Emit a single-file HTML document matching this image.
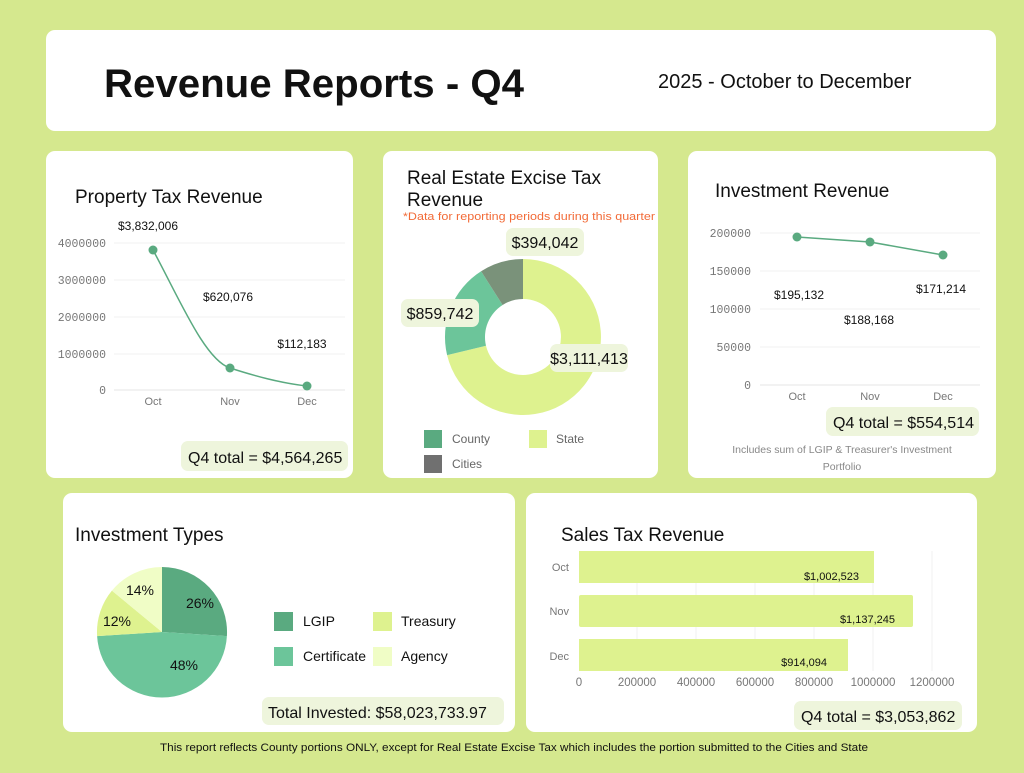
<!DOCTYPE html>
<html><head><meta charset="utf-8"><style>
body{margin:0;width:1024px;height:768px;background:#d5e88e;font-family:"Liberation Sans",sans-serif;overflow:hidden}
</style></head><body>
<svg width="1024" height="768" xmlns="http://www.w3.org/2000/svg" font-family="Liberation Sans, sans-serif">
<rect width="1024" height="768" fill="#d5e88e"/>
<rect x="46" y="30" width="950" height="101" rx="9" fill="#fff"/>
<text x="104" y="97" font-size="40" font-weight="bold" fill="#111" textLength="420" lengthAdjust="spacingAndGlyphs">Revenue Reports - Q4</text>
<text x="658" y="88" font-size="20" fill="#111">2025 - October to December</text>

<!-- P1 -->
<rect x="46" y="151" width="307" height="327" rx="9" fill="#fff"/>
<text x="75" y="203" font-size="19" fill="#111">Property Tax Revenue</text>
<g stroke="#f0f0f0" stroke-width="1">
<line x1="114" y1="243" x2="345" y2="243"/><line x1="114" y1="280" x2="345" y2="280"/><line x1="114" y1="317" x2="345" y2="317"/><line x1="114" y1="354" x2="345" y2="354"/></g>
<line x1="114" y1="390" x2="345" y2="390" stroke="#e6e6e6"/>
<g font-size="11.5" fill="#777" font-family="Liberation Mono, monospace" text-anchor="end">
<text x="106" y="247">4000000</text><text x="106" y="284">3000000</text><text x="106" y="321">2000000</text><text x="106" y="358">1000000</text><text x="106" y="394">0</text></g>
<g font-size="11" fill="#777" text-anchor="middle"><text x="153" y="405">Oct</text><text x="230" y="405">Nov</text><text x="307" y="405">Dec</text></g>
<path d="M153,250 C180,300 205,360 230,368 C255,376 280,383 307,386" fill="none" stroke="#5aaa80" stroke-width="1.5"/>
<g fill="#5aaa80"><circle cx="153" cy="250" r="4.5"/><circle cx="230" cy="368" r="4.5"/><circle cx="307" cy="386" r="4.5"/></g>
<g font-size="12" fill="#111" text-anchor="middle"><text x="148" y="230">$3,832,006</text><text x="228" y="301">$620,076</text><text x="302" y="348">$112,183</text></g>
<rect x="181" y="441" width="167" height="30" rx="7" fill="#eef5dc"/>
<text x="188" y="463" font-size="16" fill="#111">Q4 total = $4,564,265</text>

<!-- P2 -->
<rect x="383" y="151" width="275" height="327" rx="9" fill="#fff"/>
<text x="407" y="184" font-size="19" fill="#111">Real Estate Excise Tax</text>
<text x="407" y="206" font-size="19" fill="#111">Revenue</text>
<text x="403" y="220" font-size="11" fill="#f26b38" textLength="252" lengthAdjust="spacingAndGlyphs">*Data for reporting periods during this quarter</text>
<path d="M523,259 A78,78 0 1,1 447.1,355.1 L486,345.8 A38,38 0 1,0 523,299 Z" fill="#def28f"/>
<path d="M447.1,355.1 A78,78 0 0,1 481.1,271.2 L502.6,305 A38,38 0 0,0 486,345.8 Z" fill="#6cc59a"/>
<path d="M481.1,271.2 A78,78 0 0,1 523,259 L523,299 A38,38 0 0,0 502.6,305 Z" fill="#7a927a"/>
<rect x="506" y="228" width="78" height="28" rx="7" fill="#eef5dc"/><text x="545" y="248" font-size="16" text-anchor="middle" fill="#111">$394,042</text>
<rect x="401" y="299" width="78" height="28" rx="7" fill="#eef5dc"/><text x="440" y="319" font-size="16" text-anchor="middle" fill="#111">$859,742</text>
<rect x="550" y="344" width="78" height="28" rx="7" fill="#eef5dc"/><text x="589" y="364" font-size="16" text-anchor="middle" fill="#111">$3,111,413</text>
<rect x="424" y="430" width="18" height="18" fill="#5aaa80"/><text x="452" y="443" font-size="12" fill="#666">County</text>
<rect x="529" y="430" width="18" height="18" fill="#def28f"/><text x="556" y="443" font-size="12" fill="#666">State</text>
<rect x="424" y="455" width="18" height="18" fill="#707070"/><text x="452" y="468" font-size="12" fill="#666">Cities</text>

<!-- P3 -->
<rect x="688" y="151" width="308" height="327" rx="9" fill="#fff"/>
<text x="715" y="197" font-size="19" fill="#111">Investment Revenue</text>
<g stroke="#f0f0f0"><line x1="760" y1="233" x2="980" y2="233"/><line x1="760" y1="271" x2="980" y2="271"/><line x1="760" y1="309" x2="980" y2="309"/><line x1="760" y1="347" x2="980" y2="347"/></g>
<line x1="760" y1="385" x2="980" y2="385" stroke="#e6e6e6"/>
<g font-size="11.5" fill="#777" font-family="Liberation Mono, monospace" text-anchor="end">
<text x="751" y="237">200000</text><text x="751" y="275">150000</text><text x="751" y="313">100000</text><text x="751" y="351">50000</text><text x="751" y="389">0</text></g>
<g font-size="11" fill="#777" text-anchor="middle"><text x="797" y="400">Oct</text><text x="870" y="400">Nov</text><text x="943" y="400">Dec</text></g>
<polyline points="797,237 870,242 943,255" fill="none" stroke="#5aaa80" stroke-width="1.5"/>
<g fill="#5aaa80"><circle cx="797" cy="237" r="4.5"/><circle cx="870" cy="242" r="4.5"/><circle cx="943" cy="255" r="4.5"/></g>
<g font-size="12" fill="#111" text-anchor="middle"><text x="799" y="299">$195,132</text><text x="869" y="324">$188,168</text><text x="941" y="293">$171,214</text></g>
<rect x="826" y="407" width="153" height="29" rx="7" fill="#eef5dc"/>
<text x="833" y="428" font-size="16" fill="#111">Q4 total = $554,514</text>
<text x="842" y="453" font-size="10.5" fill="#888" text-anchor="middle">Includes sum of LGIP &amp; Treasurer's Investment</text>
<text x="842" y="470" font-size="10.5" fill="#888" text-anchor="middle">Portfolio</text>

<!-- P4 -->
<rect x="63" y="493" width="452" height="239" rx="9" fill="#fff"/>
<text x="75" y="541" font-size="19" fill="#111">Investment Types</text>
<path d="M162,632 L162,567 A65,65 0 0,1 226.9,636.1 Z" fill="#5aaa80"/>
<path d="M162,632 L226.9,636.1 A65,65 0 0,1 97.1,636.1 Z" fill="#6cc59a"/>
<path d="M162,632 L97.1,636.1 A65,65 0 0,1 111.9,590.6 Z" fill="#def28f"/>
<path d="M162,632 L111.9,590.6 A65,65 0 0,1 162,567 Z" fill="#f0fdc6"/>
<g font-size="14" fill="#111" text-anchor="middle"><text x="200" y="608">26%</text><text x="184" y="670">48%</text><text x="117" y="626">12%</text><text x="140" y="595">14%</text></g>
<rect x="274" y="612" width="19" height="19" fill="#5aaa80"/><text x="303" y="626" font-size="14" fill="#111">LGIP</text>
<rect x="373" y="612" width="19" height="19" fill="#def28f"/><text x="401" y="626" font-size="14" fill="#111">Treasury</text>
<rect x="274" y="647" width="19" height="19" fill="#6cc59a"/><text x="303" y="661" font-size="14" fill="#111">Certificate</text>
<rect x="373" y="647" width="19" height="19" fill="#f0fdc6"/><text x="401" y="661" font-size="14" fill="#111">Agency</text>
<rect x="262" y="697" width="242" height="28" rx="7" fill="#eef5dc"/>
<text x="268" y="718" font-size="16" fill="#111">Total Invested: $58,023,733.97</text>

<!-- P5 -->
<rect x="526" y="493" width="451" height="239" rx="9" fill="#fff"/>
<text x="561" y="541" font-size="19" fill="#111">Sales Tax Revenue</text>
<g stroke="#f0f0f0"><line x1="637" y1="551" x2="637" y2="671"/><line x1="696" y1="551" x2="696" y2="671"/><line x1="755" y1="551" x2="755" y2="671"/><line x1="814" y1="551" x2="814" y2="671"/><line x1="873" y1="551" x2="873" y2="671"/><line x1="932" y1="551" x2="932" y2="671"/></g>
<rect x="579" y="551" width="295" height="32" fill="#def28f"/>
<rect x="579" y="595" width="334" height="32" fill="#def28f" rx="2"/>
<rect x="579" y="639" width="269" height="32" fill="#def28f"/>
<g font-size="11" fill="#111" text-anchor="end"><text x="859" y="580">$1,002,523</text><text x="895" y="623">$1,137,245</text><text x="827" y="666">$914,094</text></g>
<g font-size="11" fill="#777" text-anchor="end"><text x="569" y="571">Oct</text><text x="569" y="615">Nov</text><text x="569" y="660">Dec</text></g>
<g font-size="11.5" fill="#777" text-anchor="middle"><text x="579" y="686">0</text><text x="637" y="686">200000</text><text x="696" y="686">400000</text><text x="755" y="686">600000</text><text x="814" y="686">800000</text><text x="873" y="686">1000000</text><text x="932" y="686">1200000</text></g>
<rect x="794" y="701" width="168" height="29" rx="7" fill="#eef5dc"/>
<text x="801" y="722" font-size="16" fill="#111">Q4 total = $3,053,862</text>

<text x="160" y="751" font-size="11" fill="#111" textLength="708" lengthAdjust="spacingAndGlyphs">This report reflects County portions ONLY, except for Real Estate Excise Tax which includes the portion submitted to the Cities and State</text>
</svg>
</body></html>
